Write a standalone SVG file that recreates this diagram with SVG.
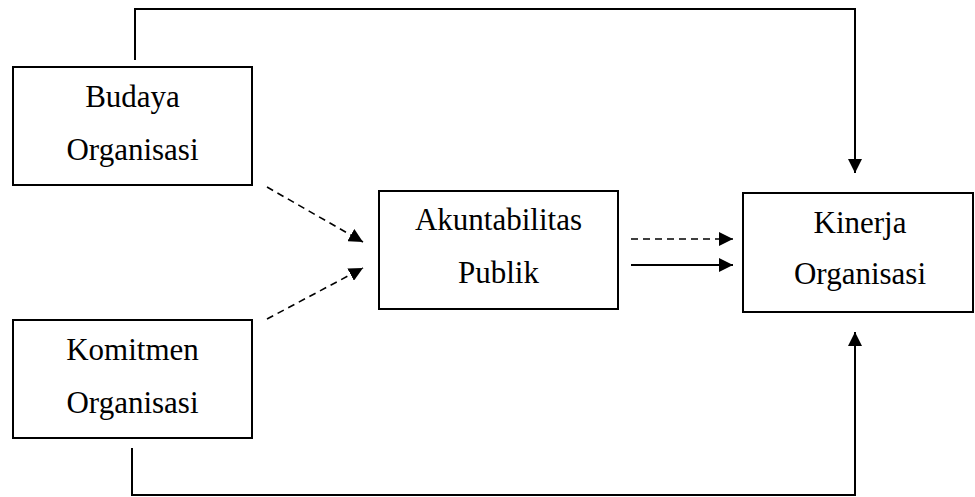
<svg xmlns="http://www.w3.org/2000/svg" width="975" height="497" viewBox="0 0 975 497">
<style>
.box{fill:#fff;stroke:#000;stroke-width:2}
.lbl{font-family:"Liberation Serif","Times New Roman",serif;font-size:31px;fill:#000;text-anchor:middle}
.ln{fill:none;stroke:#000;stroke-width:2}
.dash{stroke-dasharray:7 5;stroke-width:1.6}
</style>
<defs>
<marker id="ah" markerUnits="userSpaceOnUse" markerWidth="14" markerHeight="14" viewBox="0 0 14 14" refX="14" refY="7" orient="auto">
<path d="M0,0 L14,7 L0,14 Z" fill="#000"/>
</marker>
</defs>
<g id="connectors">
<path class="ln" d="M135,60 V9 H855 V173" marker-end="url(#ah)"/>
<path class="ln" d="M132,448 V495 H855 V332" marker-end="url(#ah)"/>
<path class="ln dash" d="M267,187 L363,242" marker-end="url(#ah)"/>
<path class="ln dash" d="M267,319 L363,268" marker-end="url(#ah)"/>
<path class="ln dash" d="M631,239 L733,239" marker-end="url(#ah)"/>
<path class="ln" d="M631,265 L733,265" marker-end="url(#ah)"/>
</g>
<g id="budaya">
<rect class="box" x="13" y="67" width="239" height="118"/>
<text class="lbl" x="132.5" y="107">Budaya</text>
<text class="lbl" x="132.5" y="160">Organisasi</text>
</g>
<g id="komitmen">
<rect class="box" x="13" y="320" width="239" height="118"/>
<text class="lbl" x="132.5" y="360">Komitmen</text>
<text class="lbl" x="132.5" y="413">Organisasi</text>
</g>
<g id="akuntabilitas">
<rect class="box" x="379" y="191" width="239" height="118"/>
<text class="lbl" x="498.5" y="230">Akuntabilitas</text>
<text class="lbl" x="498.5" y="283">Publik</text>
</g>
<g id="kinerja">
<rect class="box" x="743" y="193" width="230" height="119"/>
<text class="lbl" x="860" y="233">Kinerja</text>
<text class="lbl" x="860" y="284">Organisasi</text>
</g>
</svg>
